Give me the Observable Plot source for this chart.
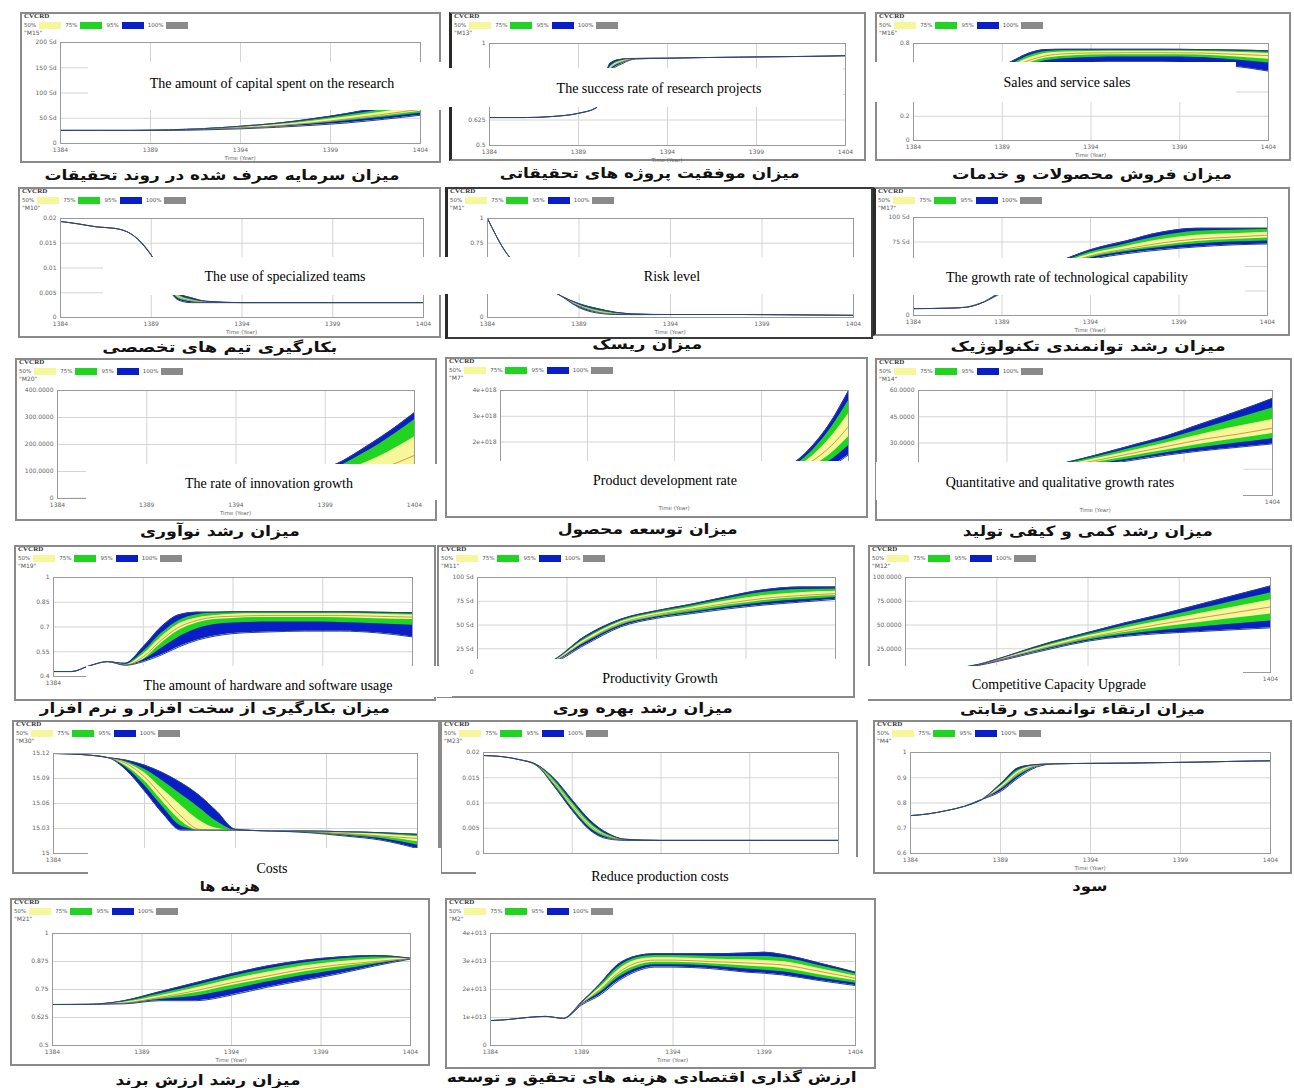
<!DOCTYPE html>
<html><head><meta charset="utf-8">
<script src="https://cdn.jsdelivr.net/npm/d3@7"></script>
<script src="https://cdn.jsdelivr.net/npm/@observablehq/plot@0.6"></script>
<style>
body{margin:0;background:#fff;}
#root{position:relative;width:1294px;height:1088px;overflow:hidden;background:#fff;}
.panel{position:absolute;box-sizing:border-box;border:2px solid #8a8a8a;background:#fff;}
.panel svg{position:absolute;left:0;top:0;}
.hd{position:absolute;white-space:nowrap;color:#555;font-family:"DejaVu Sans",sans-serif;}
.l1{left:2px;top:-1px;font:bold 7px/7px "Liberation Serif",serif;color:#333;}
.l2{left:2px;top:7px;height:8px;font-size:5.5px;line-height:8px;display:flex;align-items:center;}
.l2 .sw{display:inline-block;width:22px;height:7px;margin:0 4px 0 3px;}
.l3{left:2px;top:15px;font-size:6px;line-height:7px;}
.tl{position:absolute;font:5.5px/6px "DejaVu Sans",sans-serif;color:#666;white-space:nowrap;transform:translate(-50%,-50%);}
.cap{position:absolute;font:bold 14px "DejaVu Sans",sans-serif;direction:rtl;white-space:nowrap;color:#111;}
.ov{position:absolute;background:#fff;overflow:hidden;}
.ov span{position:absolute;font:14px "Liberation Serif","Times New Roman",serif;color:#000;white-space:nowrap;transform:translate(-50%,-50%);}
</style></head>
<body><div id="root"></div>
<script>
// ---------- shared axis data ----------
const timeTicks = [1384, 1389, 1394, 1399, 1404];
const bandLabels = ["50%", "75%", "95%", "100%"];
const bandColors = ["#f6f69a", "#22d422", "#0a1ec8", "#8a8a8a"];
const runTitle = "CVCRD";

// rows: [t, value] (all runs equal) or [t, lo95, lo75, lo50, mid, hi50, hi75, hi95]
const capitalSpent = [
  [1384, 26], [1386, 26], [1388, 26],
  [1390, 26.0, 26.2, 26.3, 26.5, 26.7, 26.8, 27.0],
  [1392, 27.0, 27.4, 27.7, 28, 28.5, 29, 29.5],
  [1394, 29, 30, 30.5, 31, 32, 33, 34],
  [1396, 32, 33.5, 34.3, 35, 37, 38.5, 40],
  [1398, 36, 38.5, 40, 41, 44, 46.5, 49],
  [1400, 41, 45, 47.5, 49, 53, 56.5, 60],
  [1402, 48, 52, 55, 58, 63, 68, 73],
  [1404, 56, 60, 64, 68, 74, 80, 86]
];
const successRate = [
  [1384, 0.637], [1386, 0.637], [1387.5, 0.642], [1389, 0.658], [1390, 0.685],
  [1390.8, 0.86, 0.87, 0.875, 0.88, 0.885, 0.89, 0.905],
  [1391.5, 0.903, 0.907, 0.91, 0.913, 0.916, 0.919, 0.924],
  [1392.2, 0.924, 0.924, 0.924, 0.925, 0.926, 0.926, 0.927],
  [1394, 0.928], [1396, 0.931], [1398, 0.933], [1400, 0.935], [1402, 0.937], [1404, 0.94]
];
const salesServices = [
  [1384, 0.45], [1386, 0.47],
  [1388, 0.49, 0.50, 0.51, 0.52, 0.53, 0.54, 0.55],
  [1389.5, 0.55, 0.57, 0.585, 0.60, 0.615, 0.63, 0.65],
  [1390.5, 0.60, 0.62, 0.64, 0.66, 0.68, 0.70, 0.72],
  [1391.5, 0.63, 0.66, 0.68, 0.70, 0.72, 0.735, 0.75],
  [1392.5, 0.64, 0.675, 0.695, 0.715, 0.73, 0.742, 0.752],
  [1394, 0.643, 0.685, 0.705, 0.722, 0.735, 0.745, 0.752],
  [1396, 0.645, 0.688, 0.708, 0.724, 0.737, 0.746, 0.752],
  [1398, 0.645, 0.688, 0.708, 0.724, 0.737, 0.746, 0.752],
  [1400, 0.64, 0.684, 0.705, 0.722, 0.735, 0.744, 0.750],
  [1402, 0.615, 0.665, 0.69, 0.712, 0.728, 0.739, 0.746],
  [1404, 0.572, 0.64, 0.67, 0.70, 0.718, 0.73, 0.74]
];
const specializedTeams = [
  [1384, 0.0194], [1385, 0.0189], [1386, 0.0183], [1387, 0.0180], [1388, 0.0166], [1389, 0.0126],
  [1389.8, 0.0068, 0.0071, 0.0073, 0.0075, 0.0077, 0.0079, 0.0082],
  [1390.5, 0.0035, 0.0038, 0.0040, 0.0042, 0.0044, 0.0046, 0.0049],
  [1391.2, 0.0030, 0.0032, 0.0033, 0.0034, 0.0035, 0.0037, 0.0040],
  [1392, 0.0030, 0.0030, 0.0030, 0.0031, 0.0031, 0.0032, 0.0033],
  [1394, 0.003], [1396, 0.003], [1398, 0.003], [1400, 0.003], [1402, 0.003], [1404, 0.003]
];
const riskLevel = [
  [1384, 1.0], [1385, 0.66], [1386, 0.47], [1387, 0.33], [1388, 0.22],
  [1389, 0.10, 0.11, 0.115, 0.12, 0.125, 0.13, 0.14],
  [1390, 0.045, 0.052, 0.056, 0.06, 0.066, 0.075, 0.09],
  [1391, 0.030, 0.032, 0.033, 0.035, 0.038, 0.043, 0.052],
  [1392, 0.029, 0.029, 0.030, 0.030, 0.031, 0.033, 0.036],
  [1394, 0.03], [1396, 0.03], [1398, 0.03], [1400, 0.028], [1402, 0.025], [1404, 0.022]
];
const techCapability = [
  [1384, 7], [1386, 7.5], [1387, 8.5], [1388, 14],
  [1389, 23, 23.5, 23.8, 24, 24.3, 24.6, 25],
  [1390, 31, 32, 32.5, 33, 33.6, 34.2, 35],
  [1392, 46, 47.3, 48.2, 49, 50.2, 51.5, 53],
  [1394, 57, 58.8, 60, 61, 62.8, 64.8, 67],
  [1396, 63, 65, 66.5, 68, 70.5, 73, 76],
  [1398, 67, 69.5, 71.5, 74, 77.5, 81, 85],
  [1400, 70, 73, 75.5, 78, 82, 86, 89],
  [1402, 72, 75, 77.5, 80, 83.5, 87, 89],
  [1404, 73, 76, 79, 82, 85, 88, 89]
];
const innovationGrowth = [
  [1384, 0], [1388, 0.5], [1390, 1],
  [1392, 1.5, 1.8, 2, 2.5, 3, 3.5, 4],
  [1394, 4, 5, 6, 7, 9, 11, 13],
  [1396, 9, 11, 13, 16, 22, 28, 33],
  [1398, 19, 24, 30, 40, 58, 75, 85],
  [1399, 24, 30, 38, 52, 76, 98, 110],
  [1400, 31, 39, 49, 68, 98, 126, 140],
  [1401, 39, 49, 62, 86, 126, 162, 180],
  [1402, 48, 60, 77, 108, 155, 200, 222],
  [1403, 59, 74, 95, 132, 190, 244, 268],
  [1404, 72, 90, 115, 160, 228, 292, 318]
];
const productDevelopment = [
  [1384, 0], [1390, 0.01],
  [1394, 0.02, 0.03, 0.04, 0.05, 0.06, 0.08, 0.1],
  [1396, 0.05, 0.06, 0.08, 0.1, 0.13, 0.16, 0.2],
  [1398, 0.12, 0.15, 0.2, 0.25, 0.31, 0.38, 0.45],
  [1399, 0.2, 0.25, 0.32, 0.4, 0.48, 0.57, 0.65],
  [1400, 0.3, 0.38, 0.48, 0.6, 0.7, 0.8, 0.9],
  [1401, 0.45, 0.58, 0.72, 0.9, 1.02, 1.14, 1.25],
  [1402, 0.7, 0.88, 1.08, 1.3, 1.5, 1.72, 1.9],
  [1403, 1.05, 1.3, 1.55, 1.85, 2.2, 2.55, 2.8],
  [1404, 1.5, 1.85, 2.2, 2.6, 3.1, 3.6, 3.98]
];
const productionGrowth = [
  [1384, 4], [1386, 6],
  [1388, 8.7, 8.8, 8.9, 9, 9.1, 9.2, 9.3],
  [1390, 11.5, 11.8, 12.1, 12.5, 12.9, 13.2, 13.5],
  [1392, 14, 14.5, 15.2, 16, 16.8, 17.5, 18],
  [1394, 17, 17.8, 19, 20, 21, 22, 23],
  [1396, 20, 21, 22.5, 24, 25.5, 27, 28.5],
  [1398, 23, 24.5, 26, 28, 30, 32, 34],
  [1400, 25.5, 27.5, 29.5, 32, 35, 38, 41],
  [1402, 27.5, 30, 32.5, 35, 39.5, 44, 48],
  [1404, 29.5, 32.5, 35.5, 38.5, 43.5, 50, 55.5]
];
const hardwareSoftware = [
  [1384, 0.43], [1385, 0.43], [1386, 0.465], [1387, 0.49],
  [1388, 0.468, 0.468, 0.469, 0.47, 0.472, 0.475, 0.48],
  [1389, 0.49, 0.50, 0.505, 0.52, 0.535, 0.55, 0.58],
  [1390, 0.53, 0.57, 0.60, 0.62, 0.64, 0.66, 0.70],
  [1391, 0.58, 0.64, 0.68, 0.70, 0.72, 0.74, 0.775],
  [1392, 0.62, 0.69, 0.725, 0.74, 0.755, 0.775, 0.79],
  [1393, 0.645, 0.715, 0.745, 0.76, 0.77, 0.785, 0.79],
  [1394, 0.66, 0.725, 0.752, 0.765, 0.778, 0.788, 0.792],
  [1396, 0.67, 0.73, 0.758, 0.77, 0.78, 0.788, 0.792],
  [1398, 0.675, 0.73, 0.758, 0.77, 0.78, 0.788, 0.792],
  [1400, 0.675, 0.728, 0.756, 0.77, 0.78, 0.788, 0.792],
  [1402, 0.665, 0.72, 0.75, 0.765, 0.778, 0.785, 0.79],
  [1404, 0.64, 0.71, 0.745, 0.76, 0.772, 0.78, 0.786]
];
const productivityGrowth = [
  [1384, 2], [1386, 5],
  [1388, 9, 9.3, 9.6, 10, 10.4, 10.7, 11],
  [1390, 29, 31, 32, 33, 34.5, 36, 38],
  [1392, 48, 49.5, 50.8, 52, 53.3, 54.6, 56],
  [1394, 57, 58.3, 59.6, 61, 62.3, 63.6, 65],
  [1396, 62, 63.8, 65.4, 67, 68.8, 70.5, 72],
  [1398, 67, 69, 71, 73, 75.5, 78, 80],
  [1400, 71, 73.5, 75.8, 78, 81, 84.5, 87],
  [1402, 74, 76.5, 79, 81, 84, 87.5, 90],
  [1404, 77, 79, 81, 83, 85.5, 88, 90]
];
const competitiveCapacity = [
  [1384, 0], [1386, 3],
  [1388, 7.5, 7.7, 7.9, 8, 8.2, 8.3, 8.5],
  [1390, 16, 16.8, 17.4, 18, 18.7, 19.3, 20],
  [1392, 25, 26, 27, 28, 29.3, 30.6, 32],
  [1394, 33, 34.3, 35.7, 37, 38.7, 40.3, 42],
  [1396, 38, 40, 42, 44, 46.7, 49.3, 52],
  [1398, 41, 44.3, 47.6, 51, 54.3, 57.6, 61],
  [1400, 43, 47.6, 52.3, 57, 61.6, 66.3, 71],
  [1402, 45, 51, 57, 63, 69, 75, 81],
  [1404, 47, 54.3, 61.6, 69, 76.3, 83.6, 91]
];
const costs = [
  [1384, 15.120], [1386, 15.118], [1387, 15.115],
  [1388, 15.100, 15.103, 15.105, 15.108, 15.109, 15.110, 15.112],
  [1389, 15.075, 15.082, 15.087, 15.092, 15.097, 15.101, 15.106],
  [1390, 15.048, 15.056, 15.062, 15.068, 15.077, 15.087, 15.097],
  [1391, 15.028, 15.033, 15.039, 15.045, 15.058, 15.071, 15.085],
  [1392, 15.028, 15.028, 15.028, 15.029, 15.040, 15.055, 15.070],
  [1393, 15.028, 15.028, 15.028, 15.028, 15.030, 15.038, 15.050],
  [1394, 15.028, 15.028, 15.028, 15.028, 15.028, 15.028, 15.029],
  [1396, 15.027],
  [1398, 15.025, 15.025, 15.026, 15.026, 15.026, 15.027, 15.027],
  [1400, 15.021, 15.022, 15.023, 15.024, 15.025, 15.026, 15.026],
  [1402, 15.016, 15.018, 15.020, 15.021, 15.023, 15.024, 15.025],
  [1404, 15.006, 15.010, 15.014, 15.018, 15.020, 15.022, 15.023]
];
const productionCosts = [
  [1384, 0.0194], [1385, 0.0192], [1386, 0.0186],
  [1387, 0.0174, 0.0174, 0.0175, 0.0175, 0.0175, 0.0176, 0.0176],
  [1388, 0.0132, 0.0135, 0.0138, 0.0140, 0.0142, 0.0145, 0.0148],
  [1389, 0.0085, 0.0089, 0.0092, 0.0095, 0.0098, 0.0102, 0.0106],
  [1390, 0.0046, 0.0050, 0.0053, 0.0055, 0.0058, 0.0062, 0.0066],
  [1391, 0.0029, 0.0031, 0.0033, 0.0034, 0.0035, 0.0037, 0.0040],
  [1392, 0.0026, 0.0026, 0.0027, 0.0027, 0.0027, 0.0028, 0.0028],
  [1394, 0.0026], [1396, 0.0026], [1398, 0.0026], [1400, 0.0026], [1402, 0.0026], [1404, 0.0026]
];
const profit = [
  [1384, 0.75], [1385, 0.757], [1386, 0.77], [1387, 0.787], [1388, 0.815],
  [1389, 0.845, 0.852, 0.856, 0.86, 0.865, 0.869, 0.875],
  [1390, 0.90, 0.908, 0.914, 0.92, 0.926, 0.932, 0.94],
  [1391, 0.942, 0.944, 0.946, 0.948, 0.949, 0.95, 0.952],
  [1392, 0.955], [1394, 0.957], [1396, 0.958], [1398, 0.96], [1400, 0.962], [1402, 0.965], [1404, 0.967]
];
const brandValue = [
  [1384, 0.683], [1386, 0.684],
  [1388, 0.686, 0.688, 0.689, 0.69, 0.693, 0.696, 0.70],
  [1390, 0.70, 0.705, 0.71, 0.715, 0.722, 0.731, 0.74],
  [1392, 0.70, 0.72, 0.735, 0.745, 0.757, 0.768, 0.78],
  [1394, 0.725, 0.75, 0.768, 0.78, 0.795, 0.808, 0.82],
  [1396, 0.76, 0.783, 0.798, 0.81, 0.827, 0.842, 0.855],
  [1398, 0.79, 0.812, 0.828, 0.84, 0.855, 0.868, 0.88],
  [1400, 0.82, 0.837, 0.85, 0.86, 0.874, 0.886, 0.895],
  [1402, 0.855, 0.863, 0.869, 0.875, 0.885, 0.895, 0.902],
  [1404, 0.886, 0.887, 0.887, 0.888, 0.889, 0.89, 0.89]
];
const rdValuation = [
  [1384, 0.89], [1385, 0.93], [1386, 1.0], [1387, 1.04], [1388, 0.97],
  [1389, 1.45, 1.47, 1.49, 1.5, 1.51, 1.53, 1.55],
  [1390, 1.8, 1.88, 1.95, 2.0, 2.07, 2.14, 2.2],
  [1391, 2.3, 2.42, 2.52, 2.6, 2.7, 2.8, 2.9],
  [1392, 2.65, 2.75, 2.85, 2.95, 3.05, 3.13, 3.2],
  [1393, 2.8, 2.88, 2.97, 3.05, 3.13, 3.21, 3.28],
  [1394, 2.8, 2.88, 2.97, 3.05, 3.13, 3.21, 3.28],
  [1396, 2.75, 2.84, 2.92, 3.0, 3.09, 3.19, 3.28],
  [1398, 2.62, 2.73, 2.84, 2.95, 3.06, 3.18, 3.3],
  [1399, 2.58, 2.69, 2.8, 2.92, 3.04, 3.18, 3.33],
  [1400, 2.52, 2.63, 2.75, 2.88, 3.0, 3.13, 3.25],
  [1402, 2.32, 2.42, 2.53, 2.65, 2.75, 2.86, 2.95],
  [1404, 2.14, 2.22, 2.31, 2.4, 2.48, 2.56, 2.62]
];

const seriesList = [capitalSpent, successRate, salesServices, specializedTeams, riskLevel, techCapability,
  innovationGrowth, productDevelopment, productionGrowth, hardwareSoftware, productivityGrowth, competitiveCapacity,
  costs, productionCosts, profit, brandValue, rdValuation];

const yTickValues = [
  [0, 50, 100, 150, 200], [0.5, 0.625, 0.75, 0.875, 1], [0, 0.2, 0.4, 0.6, 0.8],
  [0, 0.005, 0.01, 0.015, 0.02], [0, 0.25, 0.5, 0.75, 1], [0, 25, 50, 75, 100],
  [0, 100, 200, 300, 400], [0, 1, 2, 3, 4], [0, 15, 30, 45, 60],
  [0.4, 0.55, 0.7, 0.85, 1], [0, 25, 50, 75, 100], [0, 25, 50, 75, 100],
  [15, 15.03, 15.06, 15.09, 15.12], [0, 0.005, 0.01, 0.015, 0.02], [0.6, 0.7, 0.8, 0.9, 1],
  [0.5, 0.625, 0.75, 0.875, 1], [0, 1, 2, 3, 4]
];
const yTickLabels = [
  ["0", "50 Sd", "100 Sd", "150 Sd", "200 Sd"], ["0.5", "0.625", "0.75", "0.875", "1"], ["0", "0.2", "0.4", "0.6", "0.8"],
  ["0", "0.005", "0.01", "0.015", "0.02"], ["0", "0.25", "0.5", "0.75", "1"], ["0", "25 Sd", "50 Sd", "75 Sd", "100 Sd"],
  ["0", "100.0000", "200.0000", "300.0000", "400.0000"], ["0", "1e+018", "2e+018", "3e+018", "4e+018"], ["0", "15.0000", "30.0000", "45.0000", "60.0000"],
  ["0.4", "0.55", "0.7", "0.85", "1"], ["0", "25 Sd", "50 Sd", "75 Sd", "100 Sd"], ["0", "25.0000", "50.0000", "75.0000", "100.0000"],
  ["15", "15.03", "15.06", "15.09", "15.12"], ["0", "0.005", "0.01", "0.015", "0.02"], ["0.6", "0.7", "0.8", "0.9", "1"],
  ["0.5", "0.625", "0.75", "0.875", "1"], ["0", "1e+013", "2e+013", "3e+013", "4e+013"]
];
const varNames = ["M15", "M13", "M16", "M10", "M1", "M17", "M20", "M7", "M14", "M19", "M11", "M12", "M30", "M23", "M4", "M21", "M2"];
const captionsFa = [
  "میزان سرمایه صرف شده در روند تحقیقات", "میزان موفقیت پروژه های تحقیقاتی", "میزان فروش محصولات و خدمات",
  "بکارگیری تیم های تخصصی", "میزان ریسک", "میزان رشد توانمندی تکنولوژیک",
  "میزان رشد نوآوری", "میزان توسعه محصول", "میزان رشد کمی و کیفی تولید",
  "میزان بکارگیری از سخت افزار و نرم افزار", "میزان رشد بهره وری", "میزان ارتقاء توانمندی رقابتی",
  "هزینه ها", "", "سود", "میزان رشد ارزش برند", "ارزش گذاری اقتصادی هزینه های تحقیق و توسعه"
];
const labelsEn = [
  "The amount of capital spent on the research", "The success rate of research projects", "Sales and service sales",
  "The use of specialized teams", "Risk level", "The growth rate of technological capability",
  "The rate of innovation growth", "Product development rate", "Quantitative and qualitative growth rates",
  "The amount of hardware and software usage", "Productivity Growth", "Competitive Capacity Upgrade",
  "Costs", "Reduce production costs", "", "", ""
];

// ---------- layout (pixels) ----------
const layout = [
  {frame:[20,12,441,163], plot:[60,42,420,143], box:[88,62,441,110], text:[272,84], cap:[222,175,355]},
  {frame:[449,12,866,161], plot:[489,43,845,145], box:[440,68,843,107], text:[659,89], cap:[650,173,300], dark:"left"},
  {frame:[875,12,1291,161], plot:[913,43,1268,140], box:[875,62,1236,102], text:[1067,83], cap:[1092,174,280]},
  {frame:[18,187,441,338], plot:[60,218,423,317], box:[103,257,441,295], text:[285,277], cap:[220,347,235]},
  {frame:[445,187,873,339], plot:[487,218,853,317], box:[440,257,855,294], text:[672,277], cap:[647,344,110], dark:"all"},
  {frame:[873,187,1290,336], plot:[913,217,1267,315], box:[883,258,1245,295], text:[1067,278], cap:[1088,346,275], dark:"left"},
  {frame:[15,358,437,521], plot:[57,390,414,498], box:[86,464,441,500], text:[269,484], cap:[220,531,160]},
  {frame:[445,357,868,518], plot:[500,390,848,493], box:[483,461,850,497], text:[665,481], cap:[648,529,180]},
  {frame:[875,358,1292,521], plot:[918,390,1272,495], box:[876,462,1243,500], text:[1060,483], cap:[1088,531,250]},
  {frame:[14,545,436,701], plot:[53,577,412,676], box:[86,666,452,697], text:[268,686], cap:[215,708,350]},
  {frame:[437,545,855,698], plot:[477,577,835,672], box:[476,659,852,696], text:[660,679], cap:[643,708,180]},
  {frame:[868,545,1292,701], plot:[905,577,1270,672], box:[868,666,1243,699], text:[1059,685], cap:[1082,709,245]},
  {frame:[12,720,440,874], plot:[53,753,417,853], box:[88,848,441,881], text:[272,869], cap:[230,886,60]},
  {frame:[440,720,858,874], plot:[483,752,838,853], box:[476,857,858,893], text:[660,877], cap:null},
  {frame:[873,720,1292,874], plot:[910,752,1270,853], box:null, text:null, cap:[1090,886,35]},
  {frame:[10,898,430,1066], plot:[52,933,410,1045], box:null, text:null, cap:[208,1080,185]},
  {frame:[445,898,876,1069], plot:[490,933,855,1045], box:null, text:null, cap:[652,1077,410]}
];

function toRuns(rows) {
  return rows.map(r => r.length === 2
    ? {t: r[0], lo95: r[1], lo75: r[1], lo50: r[1], mid: r[1], hi50: r[1], hi75: r[1], hi95: r[1]}
    : {t: r[0], lo95: r[1], lo75: r[2], lo50: r[3], mid: r[4], hi50: r[5], hi75: r[6], hi95: r[7]});
}
// a small text rectangle hidden (even partly) under one of the white label boxes
function covered(x0, y0, x1, y1) {
  return layout.some(L => L.box && x1 > L.box[0] && x0 < L.box[2] && y1 > L.box[1] && y0 < L.box[3]);
}

const root = document.getElementById("root");
const B = 2;

layout.forEach((L, i) => {
  const [x0, y0, x1, y1] = L.frame;
  const [px0, py0, px1, py1] = L.plot;
  const div = document.createElement("div");
  div.className = "panel";
  Object.assign(div.style, {left: x0 + "px", top: y0 + "px", width: (x1 - x0) + "px", height: (y1 - y0) + "px"});
  if (L.dark === "all") { div.style.border = "2px solid #3a3a3a"; div.style.borderLeft = "3px solid #2a2a2a"; }
  if (L.dark === "left") { div.style.borderLeft = "3px solid #2a2a2a"; }
  root.appendChild(div);
  const bl = L.dark ? 3 : B;
  const W = x1 - x0 - bl - B, H = y1 - y0 - 2 * B;
  const m = {l: px0 - (x0 + bl), t: py0 - (y0 + B), r: (x1 - B) - px1, b: (y1 - B) - py1};
  const data = toRuns(seriesList[i]);
  const ticks = yTickValues[i];
  const v0 = ticks[0], v1 = ticks[ticks.length - 1];
  const fmt = new Map(ticks.map((v, k) => {
    const lab = yTickLabels[i][k];
    const yy = py1 - (v - v0) / (v1 - v0) * (py1 - py0);
    const hide = covered(px0 - 4 - lab.length * 3.6, yy - 3, px0 - 3, yy + 3);
    return [v, hide ? "" : lab];
  }));
  const xfmt = new Map(timeTicks.map(t => {
    const xx = px0 + (t - 1384) / 20 * (px1 - px0);
    return [t, covered(xx - 8, py1 + 3, xx + 8, py1 + 10) ? "" : String(t)];
  }));
  const curve = "monotone-x";
  const svg = Plot.plot({
    width: W, height: H,
    marginLeft: m.l, marginRight: m.r, marginTop: m.t, marginBottom: m.b,
    style: {background: "transparent", fontFamily: "DejaVu Sans, sans-serif", fontSize: "6px", color: "#666", overflow: "visible"},
    x: {domain: [1384, 1404], ticks: timeTicks, tickSize: 0, tickPadding: 4, tickFormat: d => xfmt.get(d), label: null},
    y: {domain: [v0, v1], ticks: ticks, tickSize: 0, tickPadding: 4, tickFormat: d => fmt.get(d), label: null},
    marks: [
      Plot.ruleX(timeTicks, {stroke: "#d4d4d4"}),
      Plot.ruleY(ticks, {stroke: "#d4d4d4"}),
      Plot.areaY(data, {x: "t", y1: "lo95", y2: "hi95", fill: bandColors[2], curve}),
      Plot.areaY(data, {x: "t", y1: "lo75", y2: "hi75", fill: bandColors[1], curve}),
      Plot.areaY(data, {x: "t", y1: "lo50", y2: "hi50", fill: bandColors[0], curve}),
      Plot.lineY(data, {x: "t", y: "mid", stroke: "#cf7a3c", strokeWidth: 0.8, curve}),
      Plot.lineY(data, {x: "t", y: "lo95", stroke: "#2a4578", strokeWidth: 1, curve}),
      Plot.lineY(data, {x: "t", y: "hi95", stroke: "#2a4578", strokeWidth: 1, curve}),
      Plot.frame({stroke: "#9a9a9a"})
    ]
  });
  div.appendChild(svg);

  // Vensim header: run name, confidence legend, variable name
  const l1 = document.createElement("div"); l1.className = "hd l1"; l1.textContent = runTitle; div.appendChild(l1);
  const l2 = document.createElement("div"); l2.className = "hd l2";
  bandLabels.forEach((lab, k) => {
    const s = document.createElement("span"); s.textContent = lab; l2.appendChild(s);
    const sw = document.createElement("span"); sw.className = "sw"; sw.style.background = bandColors[k]; l2.appendChild(sw);
  });
  div.appendChild(l2);
  const l3 = document.createElement("div"); l3.className = "hd l3"; l3.textContent = '"' + varNames[i] + '"'; div.appendChild(l3);

  // Time axis label (left out where a white label box hides it)
  const tx = (px0 + px1) / 2, ty = py1 + 15;
  if (!covered(tx - 18, ty - 3, tx + 18, ty + 3)) {
    const tl = document.createElement("div"); tl.className = "tl"; tl.textContent = "Time (Year)";
    tl.style.left = tx + "px"; tl.style.top = ty + "px";
    root.appendChild(tl);
  }

  // Persian caption
  if (L.cap && captionsFa[i]) {
    const c = document.createElement("div"); c.className = "cap"; c.textContent = captionsFa[i];
    root.appendChild(c);
    const w = c.getBoundingClientRect().width, h = c.getBoundingClientRect().height;
    const s = L.cap[2] / w;
    c.style.left = (L.cap[0] - w / 2) + "px"; c.style.top = (L.cap[1] - h / 2) + "px";
    c.style.transform = `scaleX(${s})`;
  }
});

// English overlay boxes (drawn last, above charts)
layout.forEach((L, i) => {
  if (!L.box) return;
  const [bx0, by0, bx1, by1] = L.box;
  const ov = document.createElement("div"); ov.className = "ov";
  Object.assign(ov.style, {left: bx0 + "px", top: by0 + "px", width: (bx1 - bx0) + "px", height: (by1 - by0) + "px"});
  const sp = document.createElement("span"); sp.textContent = labelsEn[i];
  sp.style.left = (L.text[0] - bx0) + "px"; sp.style.top = (L.text[1] - by0) + "px";
  ov.appendChild(sp);
  root.appendChild(ov);
});
</script></body></html>
